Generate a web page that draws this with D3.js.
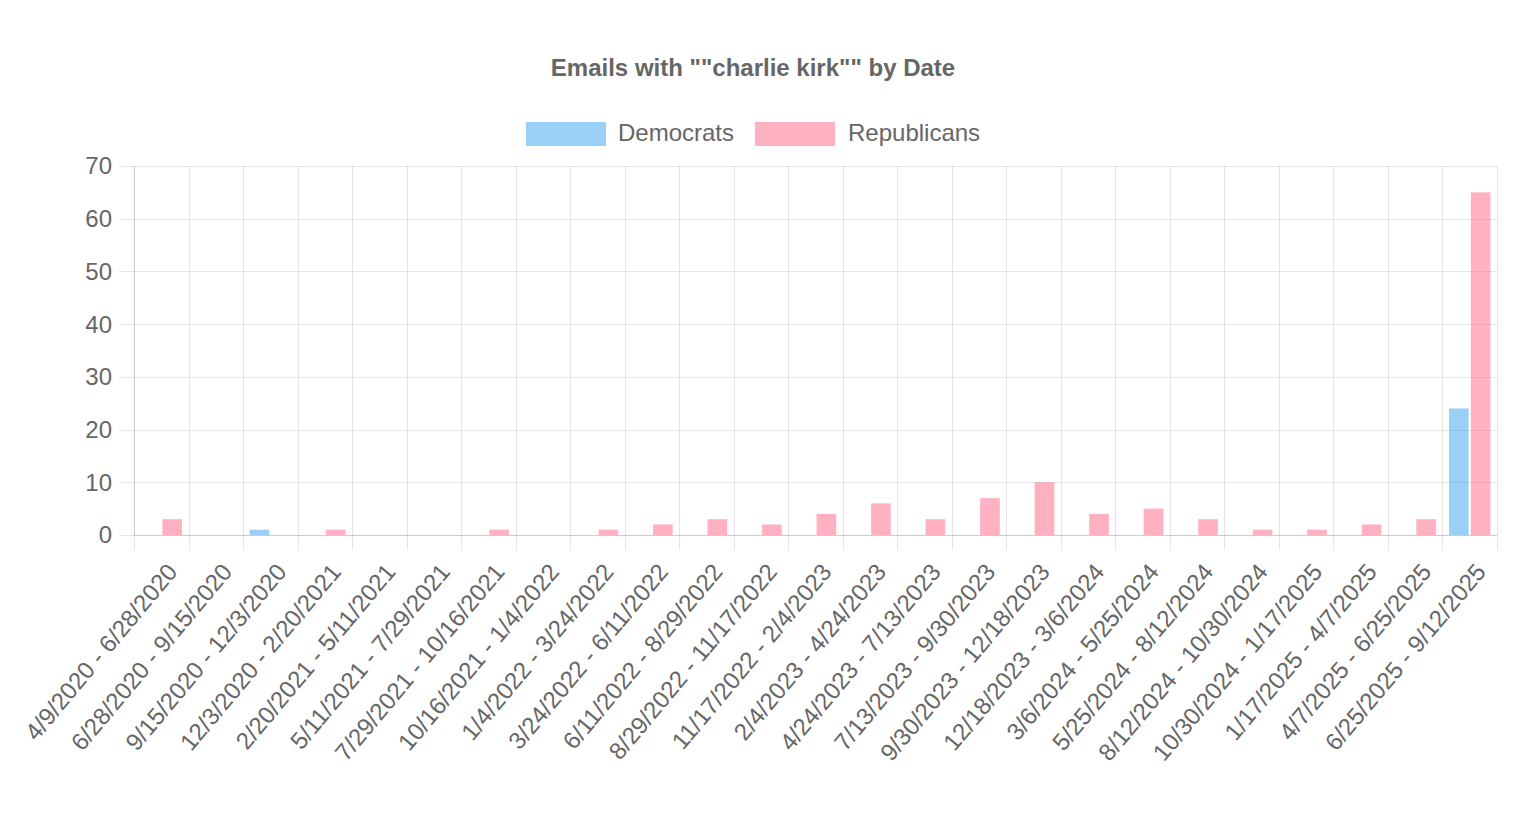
<!DOCTYPE html>
<html>
<head>
<meta charset="utf-8">
<script src="https://cdn.jsdelivr.net/npm/d3@7"></script>
<style>
  html, body { margin: 0; padding: 0; background: #fff; }
  svg { display: block; font-family: "Liberation Sans", Arial, Helvetica, sans-serif; }
</style>
</head>
<body>
<svg id="chart" width="1518" height="828"></svg>
<script>
const title = 'Emails with ""charlie kirk"" by Date';
const categories = [
  "4/9/2020 - 6/28/2020", "6/28/2020 - 9/15/2020", "9/15/2020 - 12/3/2020",
  "12/3/2020 - 2/20/2021", "2/20/2021 - 5/11/2021", "5/11/2021 - 7/29/2021",
  "7/29/2021 - 10/16/2021", "10/16/2021 - 1/4/2022", "1/4/2022 - 3/24/2022",
  "3/24/2022 - 6/11/2022", "6/11/2022 - 8/29/2022", "8/29/2022 - 11/17/2022",
  "11/17/2022 - 2/4/2023", "2/4/2023 - 4/24/2023", "4/24/2023 - 7/13/2023",
  "7/13/2023 - 9/30/2023", "9/30/2023 - 12/18/2023", "12/18/2023 - 3/6/2024",
  "3/6/2024 - 5/25/2024", "5/25/2024 - 8/12/2024", "8/12/2024 - 10/30/2024",
  "10/30/2024 - 1/17/2025", "1/17/2025 - 4/7/2025", "4/7/2025 - 6/25/2025",
  "6/25/2025 - 9/12/2025"
];
const democrats =   [0,0,1,0,0,0,0,0,0,0,0,0,0,0,0,0,0,0,0,0,0,0,0,0,24];
const republicans = [3,0,0,1,0,0,1,0,1,2,3,2,4,6,3,7,10,4,5,3,1,1,2,3,65];
const seriesNames = ["Democrats", "Republicans"];
const seriesColors = ["rgba(54,162,235,0.5)", "rgba(255,99,132,0.5)"];
const yTicks = [0,10,20,30,40,50,60,70];

const svg = d3.select("#chart");
const pLeft = 134, pRight = 1497, pTop = 166, pBottom = 535;
const FS = 24;

const x = d3.scaleBand().domain(categories).range([pLeft, pRight]).paddingInner(0).paddingOuter(0);
const y = d3.scaleLinear().domain([0, 70]).range([pBottom, pTop]);

const grid = "rgba(0,0,0,0.1)";
// horizontal grid
svg.append("g").selectAll("line").data(yTicks).join("line")
  .attr("x1", pLeft - 15).attr("x2", pRight)
  .attr("y1", d => Math.round(y(d)) + 0.5).attr("y2", d => Math.round(y(d)) + 0.5)
  .attr("stroke", grid).attr("stroke-width", 1);
// vertical grid at category boundaries
const bounds = categories.map(c => x(c)).concat([pRight]);
svg.append("g").selectAll("line").data(bounds).join("line")
  .attr("x1", d => Math.round(d) + 0.5).attr("x2", d => Math.round(d) + 0.5)
  .attr("y1", pTop).attr("y2", pBottom + 15)
  .attr("stroke", grid).attr("stroke-width", 1);
// axis lines
svg.append("line").attr("x1", pLeft + 0.5).attr("x2", pLeft + 0.5).attr("y1", pTop).attr("y2", pBottom)
  .attr("stroke", "rgba(0,0,0,0.1)");
svg.append("line").attr("x1", pLeft).attr("x2", pRight).attr("y1", pBottom + 0.5).attr("y2", pBottom + 0.5)
  .attr("stroke", "rgba(0,0,0,0.1)");

// bars: Chart.js categoryPercentage 0.8, barPercentage 0.9
const bw = x.bandwidth();
const groupW = bw * 0.8;
const slot = groupW / 2;
const barW = slot * 0.9;
const series = [democrats, republicans];
series.forEach((vals, si) => {
  svg.append("g").selectAll("rect").data(vals.map((v, i) => ({v, c: categories[i]}))).join("rect")
    .attr("x", d => x(d.c) + (bw - groupW) / 2 + si * slot + (slot - barW) / 2)
    .attr("width", barW)
    .attr("y", d => y(d.v))
    .attr("height", d => y(0) - y(d.v))
    .attr("fill", seriesColors[si]);
});

// y tick labels
svg.append("g").selectAll("text").data(yTicks).join("text")
  .attr("x", 112).attr("y", d => y(d))
  .attr("dy", "0.35em")
  .attr("text-anchor", "end")
  .attr("font-size", FS).attr("fill", "#666")
  .text(d => d);

// x tick labels
svg.append("g").selectAll("text").data(categories).join("text")
  .attr("transform", c => `translate(${x(c) + bw / 2 + 11},${pBottom + 32}) rotate(-50)`)
  .attr("text-anchor", "end")
  .attr("dy", "0.35em")
  .attr("font-size", FS).attr("fill", "#666")
  .text(c => c);

// title
svg.append("text").attr("x", 753).attr("y", 76)
  .attr("text-anchor", "middle").attr("font-size", FS).attr("font-weight", "bold")
  .attr("fill", "#666").text(title);

// legend
const legend = svg.append("g");
const legendItems = [{name: seriesNames[0], color: seriesColors[0], bx: 526, tx: 618},
                     {name: seriesNames[1], color: seriesColors[1], bx: 755, tx: 848}];
legendItems.forEach(it => {
  legend.append("rect").attr("x", it.bx).attr("y", 122).attr("width", 80).attr("height", 24)
    .attr("fill", it.color);
  legend.append("text").attr("x", it.tx).attr("y", 141)
    .attr("font-size", FS).attr("fill", "#666").text(it.name);
});
</script>
</body>
</html>
